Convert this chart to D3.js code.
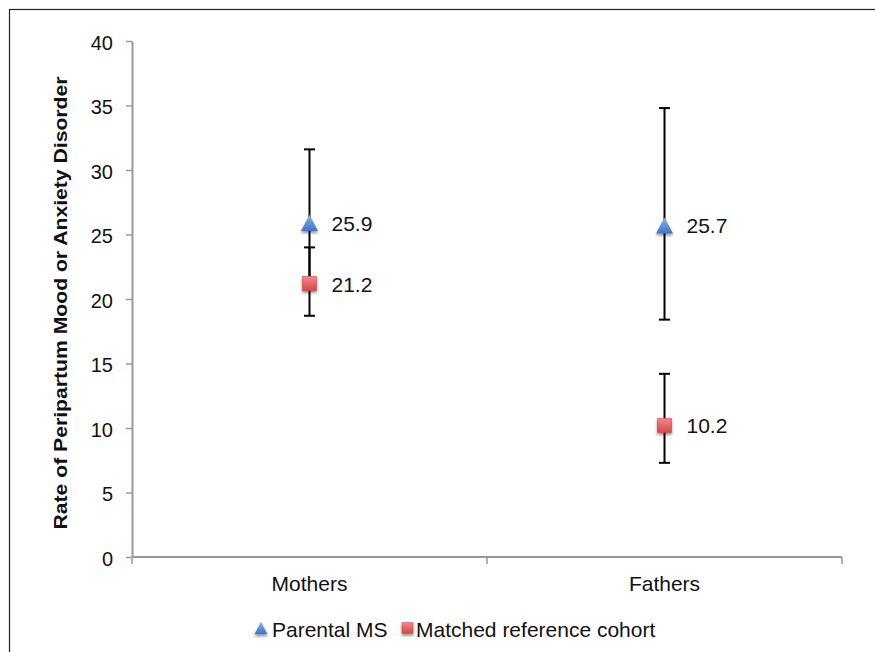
<!DOCTYPE html>
<html>
<head>
<meta charset="utf-8">
<script src="https://cdn.jsdelivr.net/npm/d3@7"></script>
<style>
  body { margin: 0; background: #fff; }
  svg { display: block; font-family: "Liberation Sans", Arial, sans-serif; }
</style>
</head>
<body>
<div id="chart"></div>
<script>
// chart data
const groups = ['Mothers', 'Fathers']
const msRate = [25.9, 25.7]
const msLow = [20.9, 18.4]
const msHigh = [31.6, 34.8]
const refRate = [21.2, 10.2]
const refLow = [18.7, 7.3]
const refHigh = [24.0, 14.2]
const yTicks = [0, 5, 10, 15, 20, 25, 30, 35, 40]
const seriesNames = ['Parental MS', 'Matched reference cohort']

const W = 875, H = 652
const margin = {left: 132, right: 33, top: 41, bottom: 95}
const fontSize = 21

const svg = d3.select('#chart').append('svg')
  .attr('width', W)
  .attr('height', H)

const defs = svg.append('defs')

// soft drop shadow under the markers
const shadow = defs.append('filter').attr('id', 'shadow')
  .attr('x', '-50%').attr('y', '-50%').attr('width', '200%').attr('height', '200%')
shadow.append('feGaussianBlur').attr('in', 'SourceAlpha').attr('stdDeviation', 1.5)
shadow.append('feOffset').attr('dx', 0).attr('dy', 2).attr('result', 'blur')
shadow.append('feComponentTransfer').append('feFuncA').attr('type', 'linear').attr('slope', 0.45)
const merge = shadow.append('feMerge')
merge.append('feMergeNode')
merge.append('feMergeNode').attr('in', 'SourceGraphic')

const blueGrad = defs.append('linearGradient').attr('id', 'blueGrad')
  .attr('x1', 0).attr('y1', 0).attr('x2', 0).attr('y2', 1)
blueGrad.append('stop').attr('offset', '0%').attr('stop-color', '#8db4e8')
blueGrad.append('stop').attr('offset', '100%').attr('stop-color', '#3f74c0')

const redGrad = defs.append('linearGradient').attr('id', 'redGrad')
  .attr('x1', 0).attr('y1', 0).attr('x2', 0).attr('y2', 1)
redGrad.append('stop').attr('offset', '0%').attr('stop-color', '#f08a8a')
redGrad.append('stop').attr('offset', '100%').attr('stop-color', '#d44848')

// outer frame (runs off the right and bottom edges in the reference)
svg.append('rect')
  .attr('x', 9.5).attr('y', 9.5)
  .attr('width', W + 20).attr('height', H + 20)
  .attr('fill', 'none')
  .attr('stroke', '#222')
  .attr('stroke-width', 1.2)

const x = d3.scaleBand()
  .domain(groups)
  .range([margin.left, W - margin.right])

const y = d3.scaleLinear()
  .domain([0, 40])
  .range([H - margin.bottom, margin.top])

const axisColor = '#999'

// y axis
const yAxis = svg.append('g')
  .attr('transform', `translate(${margin.left},0)`)
  .call(d3.axisLeft(y).tickValues(yTicks).tickSize(6).tickPadding(13).tickSizeOuter(0))
yAxis.select('.domain').attr('stroke', axisColor).attr('stroke-width', 2)
yAxis.selectAll('.tick line').attr('stroke', axisColor).attr('stroke-width', 1.5)
yAxis.selectAll('.tick text')
  .attr('font-size', 20)
  .attr('dy', '0.42em')
  .attr('fill', '#111')
  .attr('font-family', '"Liberation Sans", Arial, sans-serif')

// x axis: ticks sit on band edges, labels in the middle of the band
const xAxisG = svg.append('g')
  .attr('transform', `translate(0,${y(0)})`)
xAxisG.append('line')
  .attr('x1', margin.left).attr('x2', W - margin.right)
  .attr('stroke', axisColor).attr('stroke-width', 2)
const edges = groups.map(g => x(g)).concat([x(groups[groups.length - 1]) + x.bandwidth()])
xAxisG.selectAll('.edge').data(edges).join('line')
  .attr('class', 'edge')
  .attr('x1', d => d).attr('x2', d => d)
  .attr('y1', 0).attr('y2', 7)
  .attr('stroke', axisColor).attr('stroke-width', 1.5)
xAxisG.selectAll('.cat').data(groups).join('text')
  .attr('class', 'cat')
  .attr('x', d => x(d) + x.bandwidth() / 2)
  .attr('y', 34)
  .attr('text-anchor', 'middle')
  .attr('font-size', fontSize)
  .attr('fill', '#111')
  .text(d => d)

// y title
svg.append('text')
  .attr('transform', `translate(67,303) rotate(-90)`)
  .attr('text-anchor', 'middle')
  .attr('font-size', 19)
  .attr('font-weight', 'bold')
  .attr('fill', '#111')
  .attr('textLength', 453)
  .attr('lengthAdjust', 'spacingAndGlyphs')
  .text('Rate of Peripartum Mood or Anxiety Disorder')

const cx = g => x(g) + x.bandwidth() / 2

// build rows for both series
const series = [
  {name: seriesNames[0], rate: msRate, low: msLow, high: msHigh, shape: 'tri'},
  {name: seriesNames[1], rate: refRate, low: refLow, high: refHigh, shape: 'sq'},
]

const capW = 11
const bars = svg.append('g')
series.forEach(s => {
  groups.forEach((g, i) => {
    const gx = cx(g)
    bars.append('line')
      .attr('x1', gx).attr('x2', gx)
      .attr('y1', y(s.low[i])).attr('y2', y(s.high[i]))
      .attr('stroke', '#000').attr('stroke-width', 2)
    ;[s.low[i], s.high[i]].forEach(v => {
      bars.append('line')
        .attr('x1', gx - capW / 2).attr('x2', gx + capW / 2)
        .attr('y1', y(v)).attr('y2', y(v))
        .attr('stroke', '#000').attr('stroke-width', 2)
    })
  })
})

const markers = svg.append('g')

function drawMarker(sel, shape, px, py, sz) {
  if (shape === 'tri') {
    const h = sz * 0.95
    sel.append('path')
      .attr('d', `M${px},${py - h / 2}L${px + sz / 2},${py + h / 2}L${px - sz / 2},${py + h / 2}Z`)
      .attr('fill', 'url(#blueGrad)')
      .attr('filter', 'url(#shadow)')
  } else {
    const s = sz * 0.85
    sel.append('rect')
      .attr('x', px - s / 2).attr('y', py - s / 2)
      .attr('width', s).attr('height', s)
      .attr('fill', 'url(#redGrad)')
      .attr('stroke', '#c84a4a').attr('stroke-width', 0.5)
      .attr('filter', 'url(#shadow)')
  }
}

series.forEach(s => {
  groups.forEach((g, i) => {
    drawMarker(markers, s.shape, cx(g), y(s.rate[i]), 17)
    markers.append('text')
      .attr('x', cx(g) + 22)
      .attr('y', y(s.rate[i]) + 8)
      .attr('font-size', fontSize)
      .attr('fill', '#111')
      .text(s.rate[i].toFixed(1))
  })
})

// legend
const legend = svg.append('g').attr('transform', 'translate(0,628)')
drawMarker(legend, 'tri', 261, 0, 13)
legend.append('text').attr('x', 272).attr('y', 9).attr('font-size', fontSize).attr('fill', '#111').text(seriesNames[0])
drawMarker(legend, 'sq', 407.5, 0, 13)
legend.append('text').attr('x', 416).attr('y', 9).attr('font-size', fontSize).attr('fill', '#111').text(seriesNames[1])
</script>
</body>
</html>
